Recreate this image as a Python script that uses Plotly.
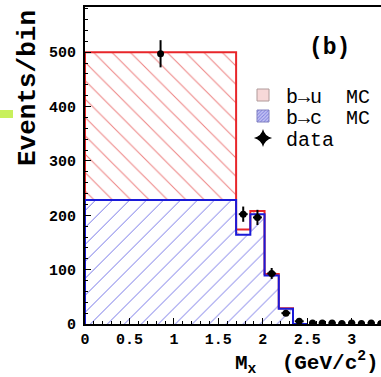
import plotly.graph_objects as go

# ---- data ----
bin_edges = [0.0, 1.7, 1.86, 2.02, 2.18, 2.34, 2.5]
b_to_c = [228, 164, 202, 89, 28, 0]          # b->c MC (blue)
total_mc = [500, 174, 208, 92, 29, 0]        # b->u + b->c MC (red outline)
data_x = [0.85, 1.78, 1.94, 2.10, 2.26, 2.41, 2.56, 2.67, 2.78, 2.89, 3.00, 3.11, 3.22, 3.33]
data_y = [497, 202, 196, 93, 20, 5, 2, 2, 2, 1, 2, 1, 2, 1]
data_err = [25, 14, 14, 10, 5, 3, 1, 1, 1, 1, 1, 1, 1, 1]
data_xerr = [0, 0.05, 0.05, 0.05, 0.05, 0.05, 0.04, 0.04, 0.04, 0.04, 0.04, 0.04, 0.04, 0.04]
y_ticks = [0, 100, 200, 300, 400, 500]
x_ticks = [0, 0.5, 1, 1.5, 2, 2.5, 3]
x_ticklabels = ["0", "0.5", "1", "1.5", "2", "2.5", "3"]
legend_names = ["b\u2192u  MC", "b\u2192c  MC", "data"]

centers = [(a + b) / 2 for a, b in zip(bin_edges[:-1], bin_edges[1:])]
widths = [b - a for a, b in zip(bin_edges[:-1], bin_edges[1:])]
b_to_u = [t - c for t, c in zip(total_mc, b_to_c)]

MONO = "Liberation Mono, Courier New, monospace"
RED = "#e8262a"
BLUE = "#1a1ad8"
XMAX = 3.33

fig = go.Figure()

# b->c hatched bars
fig.add_trace(go.Bar(
    x=centers, y=b_to_c, width=widths, name=legend_names[1], showlegend=False,
    marker=dict(color="rgba(255,255,255,0)", line=dict(width=0),
                pattern=dict(shape="/", fgcolor="#7070e6", bgcolor="white", size=12,
                             solidity=0.08, fillmode="replace")),
    hoverinfo="skip"))
# b->u hatched bars stacked on top
fig.add_trace(go.Bar(
    x=centers, y=b_to_u, base=b_to_c, width=widths, name=legend_names[0], showlegend=False,
    marker=dict(color="rgba(255,255,255,0)", line=dict(width=0),
                pattern=dict(shape="\\", fgcolor="#ee8484", bgcolor="white", size=13,
                             solidity=0.08, fillmode="replace")),
    hoverinfo="skip"))

# step outlines
step_x = bin_edges + [XMAX]
red_y = total_mc + [0]
blue_y = b_to_c + [0]
fig.add_trace(go.Scatter(x=[0] + step_x, y=[0] + red_y, mode="lines", line_shape="hv",
                         line=dict(color=RED, width=2), showlegend=False, hoverinfo="skip"))
fig.add_trace(go.Scatter(x=[0] + step_x, y=[0] + blue_y, mode="lines", line_shape="hv",
                         line=dict(color=BLUE, width=2), showlegend=False, hoverinfo="skip"))

# data points
fig.add_trace(go.Scatter(
    x=data_x, y=data_y, mode="markers", name="data", showlegend=False,
    marker=dict(color="black", size=7, symbol="circle"),
    error_y=dict(type="data", array=data_err, color="black", thickness=2, width=0),
    error_x=dict(type="data", array=data_xerr, color="black", thickness=2, width=0),
    hoverinfo="skip"))

# legend entries (styled like the reference key), one legend per row
fig.add_trace(go.Bar(x=[None], y=[None], name=legend_names[0], legend="legend",
                     marker=dict(color="#f7d8d8", line=dict(color="#b09a9a", width=1))))
fig.add_trace(go.Bar(x=[None], y=[None], name=legend_names[1], legend="legend2",
                     marker=dict(color="#c8c8f4", line=dict(color="#8080c0", width=1),
                                 pattern=dict(shape="/", fgcolor="#3030c8", size=3, solidity=0.4))))
fig.add_trace(go.Scatter(x=[None], y=[None], mode="markers", name=legend_names[2], legend="legend3",
                         marker=dict(color="black", size=13, symbol="star-diamond")))


def leg(row_px):
    return dict(x=(240 - 85) / 296, y=(324 - row_px) / 317, xanchor="left", yanchor="middle",
                bgcolor="rgba(255,255,255,0)", font=dict(family=MONO, size=20),
                itemwidth=36, tracegroupgap=0)


fig.update_layout(
    width=381, height=377,
    margin=dict(l=85, r=0, t=7, b=53),
    plot_bgcolor="white", paper_bgcolor="white",
    barmode="overlay", bargap=0,
    font=dict(family=MONO, color="black"),
    legend=leg(95), legend2=leg(116), legend3=leg(138),
    showlegend=True,
)
fig.update_xaxes(range=[0, XMAX], showgrid=False, zeroline=False,
                 showline=True, linecolor="black", linewidth=2, mirror=True,
                 ticks="inside", ticklen=6, tickcolor="black",
                 tickvals=x_ticks, ticktext=x_ticklabels,
                 tickfont=dict(family=MONO, size=15, weight="bold"),
                 minor=dict(ticks="inside", ticklen=3, dtick=0.1, tickcolor="black"))
fig.update_yaxes(range=[0, 583], showgrid=False, zeroline=False,
                 showline=True, linecolor="black", linewidth=2,
                 ticks="inside", ticklen=6, tickcolor="black",
                 tickvals=y_ticks, ticklabelstandoff=4,
                 tickfont=dict(family=MONO, size=15, weight="bold"),
                 minor=dict(ticks="inside", ticklen=3, dtick=20, tickcolor="black"))

# axis titles and label
fig.add_annotation(text="Events/bin", xref="paper", yref="paper",
                   x=-74 / 296, y=(324 - 88) / 317, xanchor="left", yanchor="middle",
                   textangle=-90, showarrow=False,
                   font=dict(family=MONO, size=26, weight="bold"))
fig.add_annotation(text="M<sub>x</sub>  (GeV/c<sup>2</sup>)", xref="paper", yref="paper",
                   x=(233 - 85) / 296, y=-39 / 317, xanchor="left", yanchor="middle",
                   showarrow=False, font=dict(family=MONO, size=21, weight="bold"))
fig.add_annotation(text="(b)", xref="paper", yref="paper",
                   x=(329 - 85) / 296, y=(324 - 48) / 317, xanchor="center", yanchor="middle",
                   showarrow=False, font=dict(family=MONO, size=23, weight="bold"))

# small green marker at left edge
fig.add_shape(type="rect", xref="paper", yref="paper",
              x0=-85 / 296, x1=-72 / 296, y0=(324 - 118) / 317, y1=(324 - 110) / 317,
              fillcolor="#c8f05c", line=dict(width=0), layer="above")

fig.write_html("out.html", config={"displayModeBar": False},
               post_script="document.body.style.margin='0';")
